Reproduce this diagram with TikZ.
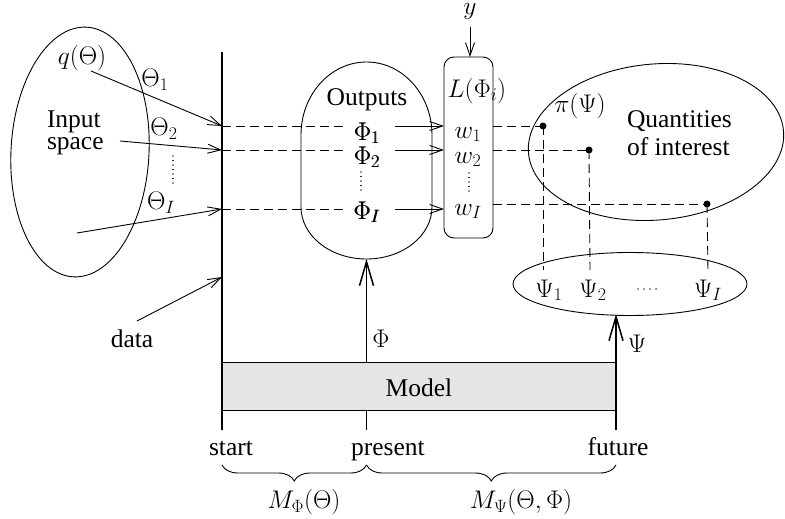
\RequirePackage{fix-cm}
\documentclass[tikz,border=0pt]{standalone}
\usepackage{fontspec}
\setmainfont{Liberation Serif}
\usetikzlibrary{arrows.meta,shapes.geometric,decorations.pathreplacing}
\newcommand{\fbold}[1]{\rlap{#1}\kern0.7pt#1}
\begin{document}
\begin{tikzpicture}[x=1pt,y=-1pt,
  font=\fontsize{25.5}{30}\selectfont,
  every node/.style={inner sep=0pt, outer sep=0pt},
  thinl/.style={line width=0.9pt},
  axis/.style={line width=1.7pt},
  arr/.style={thinl,-{Straight Barb[length=13pt,width=9pt,line width=0.9pt]}},
  bigarr/.style={axis,-{Straight Barb[length=24pt,width=14pt,line width=1.5pt]}},
  dsh/.style={thinl, dash pattern=on 9pt off 5pt},
  vdots/.style={line width=1.3pt, dash pattern=on 0.01pt off 4.5pt, line cap=round},
  hdots/.style={line width=1.3pt, dash pattern=on 0.01pt off 6pt, line cap=round},
  dotnode/.style={circle, fill=black, minimum size=7pt},
  brc/.style={thinl, decorate, decoration={brace, mirror, amplitude=16pt}}
]
\useasboundingbox (0,0) rectangle (785,519);

% ---------- big shapes ----------
\node[draw, thinl, ellipse, minimum width=138pt, minimum height=250pt, rotate=-3] (inspace) at (80,152) {};
\node[draw, thinl, ellipse, minimum width=256pt, minimum height=156pt, rotate=5] (qoi) at (656,142) {};
\node[draw, thinl, ellipse, minimum width=234pt, minimum height=63pt] (psiset) at (630,284) {};
\node[draw, thinl, rounded corners=10pt, minimum width=49pt, minimum height=181pt] (lbox) at (468.5,147.5) {};
\node[draw, thinl, fill=gray!20, minimum width=394pt, minimum height=48pt] (model) at (419,386) {};
\node (modeltxt) at (419,388) {Model};

% outputs shape
\draw[thinl] (301,207) -- (301,135)
  .. controls (301,94.7) and (330.3,62) .. (366.5,62)
  .. controls (402.7,62) and (432,94.7) .. (432,135)
  -- (432,207)
  .. controls (432,235.7) and (402.7,259) .. (366.5,259)
  .. controls (330.3,259) and (301,235.7) .. (301,207) -- cycle;
\coordinate (outbot) at (366.5,259);

% ---------- time axes ----------
\coordinate (sttop) at (222,52);
\coordinate (stbot) at (222,430);
\coordinate (prtop) at (366.5,362);
\coordinate (prlo) at (366.5,410);
\coordinate (prbot) at (366.5,430);
\coordinate (futop) at (616,362);
\coordinate (fubot) at (616,430);
\coordinate (psibot) at (616,314);
\draw[axis] (sttop) -- (stbot);
\draw[axis] (prlo) -- (prbot);
\draw[axis] (fubot) -- (futop);
\draw[bigarr] (prtop) -- (outbot);
\draw[bigarr] (futop) -- (psibot);

% ---------- input side ----------
\node (q) at (82,58) {$q(\Theta)$};
\node[anchor=base west] (inp) at (47,127) {Input};
\node[anchor=base west] (spc) at (47,149) {space};
\node (th1) at (155,80) {$\Theta_1$};
\node (th2) at (164,129) {$\Theta_2$};
\node (thI) at (161,203) {$\Theta_I$};
\coordinate (thd1) at (173,156);
\coordinate (thd2) at (173,185);
\draw[vdots] (thd1) -- (thd2);

\coordinate (a1s) at (91,71);   \coordinate (r1) at (222,126);
\coordinate (a2s) at (120,141); \coordinate (r2) at (222,150);
\coordinate (a3s) at (77,233);  \coordinate (r3) at (222,209);
\draw[arr] (a1s) -- (r1);
\draw[arr] (a2s) -- (r2);
\draw[arr] (a3s) -- (r3);

\node[anchor=base] (data) at (132,347) {data};
\coordinate (datas) at (137,321);
\coordinate (datae) at (222,277);
\draw[arr] (datas) -- (datae);

% ---------- outputs ----------
\node[anchor=base] (outtxt) at (367,106) {Outputs};
\node[anchor=base] (ph1) at (367,140) {\fbold{$\Phi_1$}};
\node[anchor=base] (ph2) at (367,164) {\fbold{$\Phi_2$}};
\node[anchor=base] (phI) at (367,219) {\fbold{$\Phi_I$}};
\coordinate (phd1) at (361,172);
\coordinate (phd2) at (361,193);
\draw[vdots] (phd1) -- (phd2);

\coordinate (d1a) at (347,126); \coordinate (s1a) at (395,126); \coordinate (l1) at (444,126);
\coordinate (d2a) at (347,150); \coordinate (s2a) at (395,150); \coordinate (l2) at (444,150);
\coordinate (d3a) at (347,209); \coordinate (s3a) at (395,209); \coordinate (l3) at (444,209);
\draw[dsh] (r1) -- (d1a);
\draw[dsh] (r2) -- (d2a);
\draw[dsh] (r3) -- (d3a);
\draw[arr] (s1a) -- (l1);
\draw[arr] (s2a) -- (l2);
\draw[arr] (s3a) -- (l3);

% ---------- likelihood ----------
\node[anchor=base] (ylab) at (470,15) {$y$};
\coordinate (ys) at (470,27);
\coordinate (ye) at (470,57);
\draw[arr] (ys) -- (ye);
\node[anchor=base] (Ltxt) at (477,97) {$L(\Phi_i)$};
\node[anchor=base] (w1) at (468,138) {$w_1$};
\node[anchor=base] (w2) at (468,163) {$w_2$};
\node[anchor=base] (wI) at (468,215) {$w_I$};
\coordinate (wd1) at (469,173);
\coordinate (wd2) at (469,192);
\draw[vdots] (wd1) -- (wd2);

% ---------- quantities of interest ----------
\node (pilab) at (580,106) {$\pi(\Psi)$};
\node[anchor=base west] (qt1) at (627,127) {Quantities};
\node[anchor=base west] (qt2) at (627,155) {of interest};
\node[dotnode] (p1) at (543,126) {};
\node[dotnode] (p2) at (589,150) {};
\node[dotnode] (p3) at (707,204) {};
\coordinate (rr1) at (493,126);
\coordinate (rr2) at (493,150);
\coordinate (rr3) at (493,204);
\draw[dsh] (rr1) -- (p1.center);
\draw[dsh] (rr2) -- (p2.center);
\draw[dsh] (rr3) -- (p3.center);
\coordinate (v1) at (543,270);
\coordinate (v2) at (590,270);
\coordinate (v3) at (708,270);
\draw[dsh] (p1.center) -- (v1);
\draw[dsh] (p2.center) -- (v2);
\draw[dsh] (p3.center) -- (v3);

\node[anchor=base] (ps1) at (549,297) {$\Psi_1$};
\node[anchor=base] (ps2) at (593,297) {$\Psi_2$};
\node[anchor=base] (psI) at (708,297) {$\Psi_I$};
\coordinate (hd1) at (638,289);
\coordinate (hd2) at (660,289);
\draw[hdots] (hd1) -- (hd2);

% ---------- labels ----------
\node[anchor=base] (philab) at (381,347) {$\Phi$};
\node[anchor=base] (psilab) at (637,352) {$\Psi$};
\node[anchor=base] (start) at (231,455) {start};
\node[anchor=base] (present) at (388,455) {present};
\node[anchor=base] (future) at (618,455) {future};

\coordinate (bA) at (222,465);
\coordinate (bB) at (366.5,465);
\coordinate (bC) at (616,465);
\draw[brc] (bA) -- (bB);
\draw[brc] (bB) -- (bC);
\node (mphi) at (304,502) {$M_\Phi(\Theta)$};
\node (mpsi) at (521,502) {$M_\Psi(\Theta,\Phi)$};
\end{tikzpicture}
\end{document}
